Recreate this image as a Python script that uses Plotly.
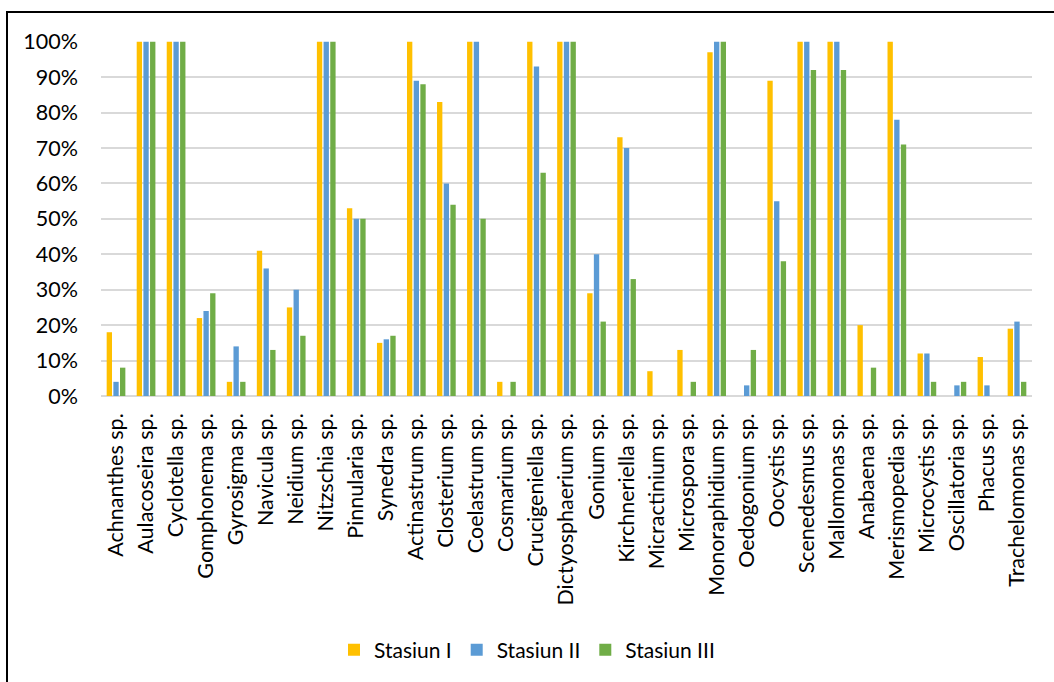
import plotly.graph_objects as go

# Phytoplankton genera (x categories)
genera = [
    "Achnanthes sp.", "Aulacoseira sp.", "Cyclotella sp.", "Gomphonema sp.",
    "Gyrosigma sp.", "Navicula sp.", "Neidium sp.", "Nitzschia sp.",
    "Pinnularia sp.", "Synedra sp.", "Actinastrum sp.", "Closterium sp.",
    "Coelastrum sp.", "Cosmarium sp.", "Crucigeniella sp.", "Dictyosphaerium sp.",
    "Gonium sp.", "Kirchneriella sp.", "Micractinium sp.", "Microspora sp.",
    "Monoraphidium sp.", "Oedogonium sp.", "Oocystis sp.", "Scenedesmus sp.",
    "Mallomonas sp.", "Anabaena sp.", "Merismopedia sp.", "Microcystis sp.",
    "Oscillatoria sp.", "Phacus sp.", "Trachelomonas sp.",
]

# Percentages per station
stasiun_1 = [18, 100, 100, 22, 4, 41, 25, 100, 53, 15, 100, 83, 100, 4, 100, 100,
             29, 73, 7, 13, 97, 0, 89, 100, 100, 20, 100, 12, 0, 11, 19]
stasiun_2 = [4, 100, 100, 24, 14, 36, 30, 100, 50, 16, 89, 60, 100, 0, 93, 100,
             40, 70, 0, 0, 100, 3, 55, 100, 100, 0, 78, 12, 3, 3, 21]
stasiun_3 = [8, 100, 100, 29, 4, 13, 17, 100, 50, 17, 88, 54, 50, 4, 63, 100,
             21, 33, 0, 4, 100, 13, 38, 92, 92, 8, 71, 4, 4, 0, 4]

series_names = ["Stasiun I", "Stasiun II", "Stasiun III"]
series_values = [stasiun_1, stasiun_2, stasiun_3]
series_colors = ["#FFC000", "#5B9BD5", "#70AD47"]

y_ticks = list(range(0, 101, 10))
y_tick_labels = [f"{v}%" for v in y_ticks]

FONT = "Lato"

fig = go.Figure()
for name, vals, col in zip(series_names, series_values, series_colors):
    fig.add_trace(go.Bar(x=genera, y=vals, name=name, marker_color=col,
                         marker_line_width=0))

W, H = 1054, 682
L, R, T, B = 101, 1032, 41, 396

fig.update_layout(
    width=W, height=H,
    margin=dict(l=L, r=W - R, t=T, b=H - B, autoexpand=False),
    paper_bgcolor="white", plot_bgcolor="white",
    barmode="group", bargap=0.333, bargroupgap=0.2,
    font=dict(family=FONT, size=21, color="#000000"),
    legend=dict(orientation="h", x=0.5, xanchor="center", xref="container",
                y=1 - 650 / H, yanchor="middle", yref="container",
                font=dict(family=FONT, size=21, color="#000000"),
                itemwidth=30),
    showlegend=True,
)

fig.update_xaxes(
    tickangle=-90, tickfont=dict(family=FONT, size=21.5),
    showline=False, showgrid=False, ticks="", ticklabelstandoff=12,
)
fig.update_yaxes(
    range=[0, 100.2], tickmode="array", tickvals=y_ticks, ticktext=y_tick_labels,
    tickfont=dict(family=FONT, size=21.5),
    showgrid=True, gridcolor="#D9D9D9", gridwidth=1.5,
    zeroline=True, zerolinecolor="#D9D9D9", zerolinewidth=1.5,
    showline=False, ticks="", ticklabelstandoff=22,
)

# Black frame around the chart block
fx0 = (7 - L) / (R - L)
fx1 = (W + 20 - L) / (R - L)
fy1 = (B - 12) / (B - T)
fy0 = (B - (H + 20)) / (B - T)
fig.add_shape(type="rect", xref="paper", yref="paper",
              x0=fx0, x1=fx1, y0=fy0, y1=fy1,
              line=dict(color="#000000", width=2), fillcolor="rgba(0,0,0,0)",
              layer="above")

fig.write_html("out.html")
